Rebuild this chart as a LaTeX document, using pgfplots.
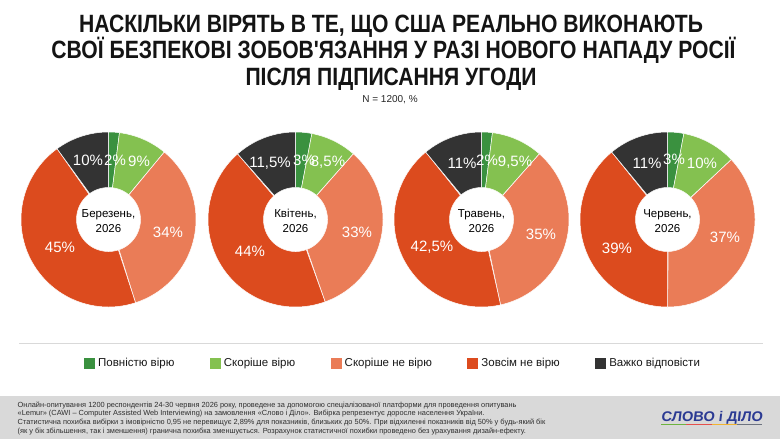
\documentclass[border=0pt]{standalone}
\usepackage{fontspec}
\setmainfont{Liberation Sans}
\newfontfamily\titlefont{Liberation Sans}[FakeStretch=0.845]
\newfontfamily\logofont{Liberation Sans}[FakeSlant=0.12, FakeStretch=1.04]
\usepackage{pgfplots}
\usepackage{pgfplotstable}
\pgfplotsset{compat=1.18}

\definecolor{cA}{HTML}{3A913F}
\definecolor{cB}{HTML}{84C150}
\definecolor{cC}{HTML}{EA7C57}
\definecolor{cD}{HTML}{DC4B1E}
\definecolor{cE}{HTML}{333333}
\definecolor{footbg}{HTML}{D9D9D9}
\definecolor{logoblue}{HTML}{2B3A93}
\definecolor{lg1}{HTML}{6DB33F}
\definecolor{lg2}{HTML}{E5504C}
\definecolor{lg3}{HTML}{F2B430}
\definecolor{lg4}{HTML}{6D7380}

% shares (%) : Повністю вірю, Скоріше вірю, Скоріше не вірю, Зовсім не вірю, Важко відповісти
\pgfplotstableread{
month v1 v2 v3 v4 v5
1 2 9 34 45 10
2 3 8.5 33 44 11.5
3 2 9.5 35 42.5 11
4 3 10 37 39 11
}\survey

\newcommand\slice[4]{%
  \pgfmathsetmacro\angA{#2*3.6}%
  \pgfmathsetmacro\angB{#3*3.6}%
  \edef\tmp{\noexpand\addplot[forget plot, fill=#4, draw=white, line width=0.5bp,
     domain=0:2, samples=201, variable=\noexpand\t]
   ({#1+ifthenelse(\noexpand\t<=1,87.5,32)*sin(\angA+(\angB-\angA)*min(\noexpand\t,2-\noexpand\t))},
    {219.5-ifthenelse(\noexpand\t<=1,87.5,32)*cos(\angA+(\angB-\angA)*min(\noexpand\t,2-\noexpand\t))}) -- cycle;}%
  \tmp}

\newcommand\donut[2]{%
  \pgfplotstablegetelem{#2}{v1}\of\survey \let\va\pgfplotsretval
  \pgfplotstablegetelem{#2}{v2}\of\survey \let\vb\pgfplotsretval
  \pgfplotstablegetelem{#2}{v3}\of\survey \let\vc\pgfplotsretval
  \pgfplotstablegetelem{#2}{v4}\of\survey \let\vd\pgfplotsretval
  \pgfplotstablegetelem{#2}{v5}\of\survey \let\ve\pgfplotsretval
  \pgfmathsetmacro\ca{\va}%
  \pgfmathsetmacro\cb{\ca+\vb}%
  \pgfmathsetmacro\cc{\cb+\vc}%
  \pgfmathsetmacro\cd{\cc+\vd}%
  \pgfmathsetmacro\ce{\cd+\ve}%
  \slice{#1}{0}{\ca}{cA}%
  \slice{#1}{\ca}{\cb}{cB}%
  \slice{#1}{\cb}{\cc}{cC}%
  \slice{#1}{\cc}{\cd}{cD}%
  \slice{#1}{\cd}{\ce}{cE}%
}

\begin{document}
\begin{tikzpicture}
\begin{axis}[
  scale only axis, width=780bp, height=439bp,
  xmin=0, xmax=780, ymin=0, ymax=439, y dir=reverse,
  hide axis, clip=false,
  legend image code/.code={\fill[#1] (0bp,-5.5bp) rectangle (11bp,5.5bp);},
  legend style={at={(axis cs:84,363)}, anchor=west, draw=none, fill=none,
    legend columns=5, font=\fontsize{11.5bp}{13bp}\selectfont, inner sep=0pt,
    nodes={inner sep=1.5bp, text=black!90},
    /tikz/every odd column/.append style={column sep=1.5bp},
    /tikz/every even column/.append style={column sep=34bp}},
  legend cell align=left,
]
\fill[white] (axis cs:0,0) rectangle (axis cs:780,439);
\fill[footbg] (axis cs:0,396) rectangle (axis cs:780,439);
\draw[footbg, line width=1bp] (axis cs:19,343) -- (axis cs:763,343);

\addlegendimage{fill=cA, draw=none}\addlegendentry{Повністю вірю}
\addlegendimage{fill=cB, draw=none}\addlegendentry{Скоріше вірю}
\addlegendimage{fill=cC, draw=none}\addlegendentry{Скоріше не вірю}
\addlegendimage{fill=cD, draw=none}\addlegendentry{Зовсім не вірю}
\addlegendimage{fill=cE, draw=none}\addlegendentry{Важко відповісти}

\donut{108.5}{0}
\donut{295.5}{1}
\donut{481.5}{2}
\donut{667.5}{3}

% title
\node[font=\titlefont\bfseries\fontsize{25bp}{26bp}\selectfont, anchor=base, text=black!92] at (axis cs:391,33) {НАСКІЛЬКИ ВІРЯТЬ В ТЕ, ЩО США РЕАЛЬНО ВИКОНАЮТЬ};
\node[font=\titlefont\bfseries\fontsize{25bp}{26bp}\selectfont, anchor=base, text=black!92] at (axis cs:393.5,59) {СВОЇ БЕЗПЕКОВІ ЗОБОВ{\char"27}ЯЗАННЯ У РАЗІ НОВОГО НАПАДУ РОСІЇ};
\node[font=\titlefont\bfseries\fontsize{25bp}{26bp}\selectfont, anchor=base, text=black!92] at (axis cs:391,85) {ПІСЛЯ ПІДПИСАННЯ УГОДИ};
\node[font=\fontsize{10bp}{12bp}\selectfont, anchor=base, text=black!85] at (axis cs:390,102) {N = 1200, \%};

% centre labels
\node[align=center, font=\fontsize{11.5bp}{15bp}\selectfont, text=black] at (axis cs:108.5,221) {Березень,\\2026};
\node[align=center, font=\fontsize{11.5bp}{15bp}\selectfont, text=black] at (axis cs:295.5,221) {Квітень,\\2026};
\node[align=center, font=\fontsize{11.5bp}{15bp}\selectfont, text=black] at (axis cs:481.5,221) {Травень,\\2026};
\node[align=center, font=\fontsize{11.5bp}{15bp}\selectfont, text=black] at (axis cs:667.5,221) {Червень,\\2026};

% value labels
\tikzset{vl/.style={text=white, font=\fontsize{15bp}{15bp}\selectfont, inner sep=0pt}}
\node[vl] at (axis cs:88,160) {10\%};
\node[vl] at (axis cs:115,160) {2\%};
\node[vl] at (axis cs:139,161) {9\%};
\node[vl] at (axis cs:168,232) {34\%};
\node[vl] at (axis cs:60,247) {45\%};
\node[vl] at (axis cs:270,163) {11,5\%};
\node[vl] at (axis cs:304,160) {3\%};
\node[vl] at (axis cs:328,162) {8,5\%};
\node[vl] at (axis cs:357,232) {33\%};
\node[vl] at (axis cs:250,251) {44\%};
\node[vl] at (axis cs:462,163) {11\%};
\node[vl] at (axis cs:487,160) {2\%};
\node[vl] at (axis cs:515,162) {9,5\%};
\node[vl] at (axis cs:541,234) {35\%};
\node[vl] at (axis cs:432,247) {42,5\%};
\node[vl] at (axis cs:647,163) {11\%};
\node[vl] at (axis cs:674,159) {3\%};
\node[vl] at (axis cs:702,163) {10\%};
\node[vl] at (axis cs:725,237) {37\%};
\node[vl] at (axis cs:617,248) {39\%};

% footer
\node[anchor=north west, align=left, inner sep=0pt, text=black!82,
  font=\fontsize{7.4bp}{8.7bp}\selectfont] at (axis cs:17.5,401.5) {Онлайн-опитування 1200 респондентів 24-30 червня 2026 року, проведене за допомогою спеціалізованої платформи для проведення опитувань\\
«Lemur» (CAWI – Computer Assisted Web Interviewing) на замовлення «Слово і Діло». Вибірка репрезентує доросле населення України.\\
Статистична похибка вибірки з імовірністю 0,95 не перевищує 2,89\% для показників, близьких до 50\%. При відхиленні показників від 50\% у будь-який бік\\
(як у бік збільшення, так і зменшення) гранична похибка зменшується. Розрахунок статистичної похибки проведено без урахування дизайн-ефекту.};

\node[anchor=base west, inner sep=0pt, text=logoblue, font=\logofont\bfseries\fontsize{14bp}{14bp}\selectfont] at (axis cs:661,421.5) {СЛОВО і ДІЛО};
\fill[lg1] (axis cs:661,423.5) rectangle (axis cs:686,425.2);
\fill[lg2] (axis cs:686,423.5) rectangle (axis cs:712,425.2);
\fill[lg3] (axis cs:712,423.5) rectangle (axis cs:737,425.2);
\fill[lg4] (axis cs:737,423.5) rectangle (axis cs:762,425.2);
\end{axis}
\end{tikzpicture}
\end{document}
